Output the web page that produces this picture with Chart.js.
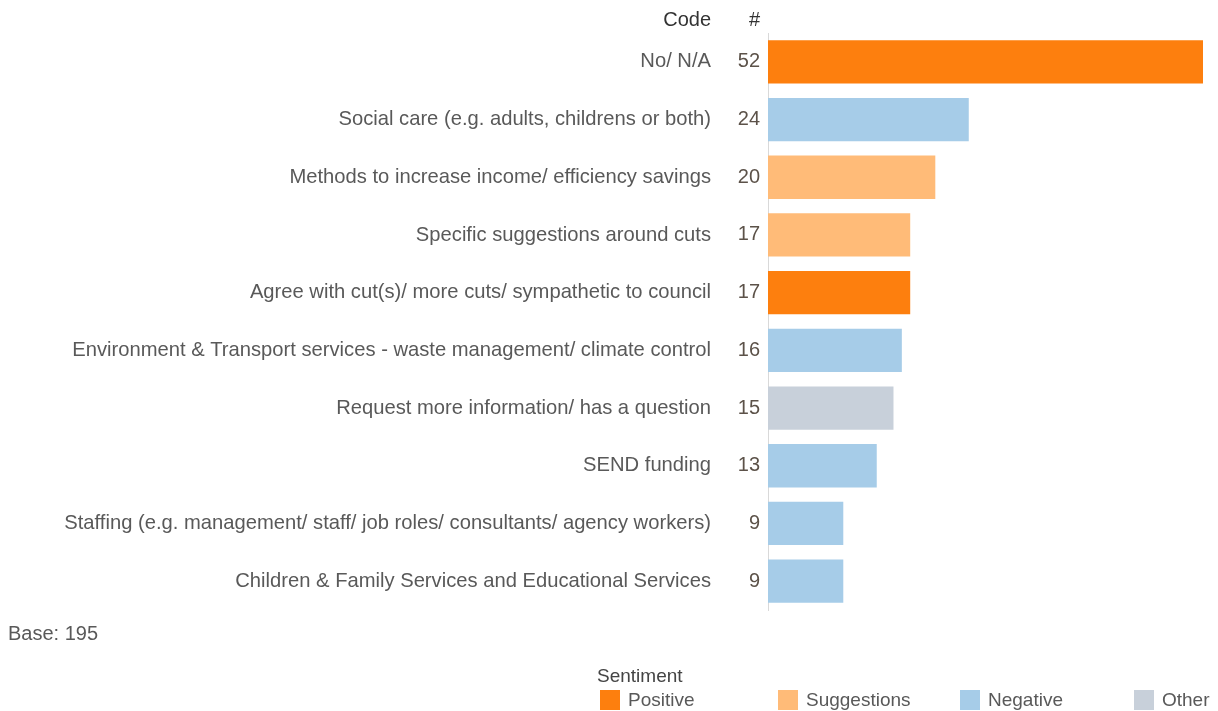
<!DOCTYPE html>
<html>
<head>
<meta charset="utf-8">
<script src="https://cdn.jsdelivr.net/npm/chart.js@4.4.0/dist/chart.umd.min.js"></script>
<style>
  body { margin: 0; background: #fff; font-family: "Liberation Sans", Arial, sans-serif; }
  #wrap { position: relative; width: 1218px; height: 711px; overflow: hidden; }
  #myChartBar { position: absolute; left: 0; top: 0; }
  #base { position: absolute; left: 8px; top: 622px; font-size: 20px; color: #595959; }
  #legendTitle { position: absolute; left: 597px; top: 665px; font-size: 19px; color: #444; }
  .leg { position: absolute; top: 689px; font-size: 19px; color: #595959; white-space: nowrap; }
  .leg span { display: inline-block; width: 20px; height: 20px; vertical-align: -4px; margin-right: 8px; }
</style>
</head>
<body>
<div id="wrap">
  <canvas id="myChartBar" width="1218" height="711"></canvas>
  <div id="base">Base: 195</div>
  <div id="legendTitle">Sentiment</div>
  <div id="legendBox"></div>
</div>
<script>
var codes = [
  'No/ N/A',
  'Social care (e.g. adults, childrens or both)',
  'Methods to increase income/ efficiency savings',
  'Specific suggestions around cuts',
  'Agree with cut(s)/ more cuts/ sympathetic to council',
  'Environment & Transport services - waste management/ climate control',
  'Request more information/ has a question',
  'SEND funding',
  'Staffing (e.g. management/ staff/ job roles/ consultants/ agency workers)',
  'Children & Family Services and Educational Services'
];
var counts = [52, 24, 20, 17, 17, 16, 15, 13, 9, 9];
var sentiment = ['Positive', 'Negative', 'Suggestions', 'Suggestions', 'Positive', 'Negative', 'Other', 'Negative', 'Negative', 'Negative'];
var sentimentNames = ['Positive', 'Suggestions', 'Negative', 'Other'];
var sentimentColors = ['#fd7f0e', '#ffbb78', '#a6cce8', '#c8d0da'];
var legendX = [600, 778, 960, 1134];

var FONT = '"Liberation Sans", Arial, sans-serif';

function colorOf(s) {
  return sentimentColors[sentimentNames.indexOf(s)];
}

// header "Code" and "#"
var headerPlugin = {
  id: 'header',
  afterDraw: function(chart) {
    var ctx = chart.ctx;
    var yS = chart.scales.y;
    var y2S = chart.scales.y2;
    ctx.save();
    ctx.font = '20px ' + FONT;
    ctx.fillStyle = '#333';
    ctx.textAlign = 'right';
    ctx.textBaseline = 'middle';
    ctx.fillText('Code', yS.right, 20);
    ctx.fillText('#', y2S.right - 8, 20);
    ctx.restore();
  }
};

var ctxBar = document.getElementById('myChartBar');
var myChartBar = new Chart(ctxBar, {
  type: 'bar',
  data: {
    labels: codes,
    datasets: [{
      data: counts,
      backgroundColor: sentiment.map(colorOf),
      borderWidth: 0,
      barPercentage: 0.75,
      categoryPercentage: 1
    }]
  },
  options: {
    indexAxis: 'y',
    responsive: false,
    animation: false,
    layout: { padding: { top: 33, bottom: 101, left: 0, right: 15 } },
    plugins: { legend: { display: false }, tooltip: { enabled: false } },
    scales: {
      x: { display: false, min: 0, max: 52 },
      y: {
        position: 'left',
        weight: 1,
        grid: { display: false, drawTicks: false },
        border: { display: false },
        ticks: { padding: 0, color: '#595959', font: { size: 20.2, family: FONT } },
        afterFit: function(s) { s.width = 711; }
      },
      y2: {
        type: 'category',
        position: 'left',
        weight: 0,
        offset: true,
        labels: counts.map(String),
        grid: { display: false, drawTicks: false },
        border: { display: true, color: '#d9d9d9', dash: [2, 2] },
        ticks: { padding: 8, color: '#5c5249', font: { size: 20, family: FONT } },
        afterFit: function(s) { s.width = 57; }
      }
    }
  },
  plugins: [headerPlugin]
});

// legend
var html = '';
sentimentNames.forEach(function(name, i) {
  html += '<div class="leg" style="left:' + legendX[i] + 'px"><span style="background:' + sentimentColors[i] + '"></span>' + name + '</div>';
});
document.getElementById('legendBox').innerHTML = html;
</script>
</body>
</html>
